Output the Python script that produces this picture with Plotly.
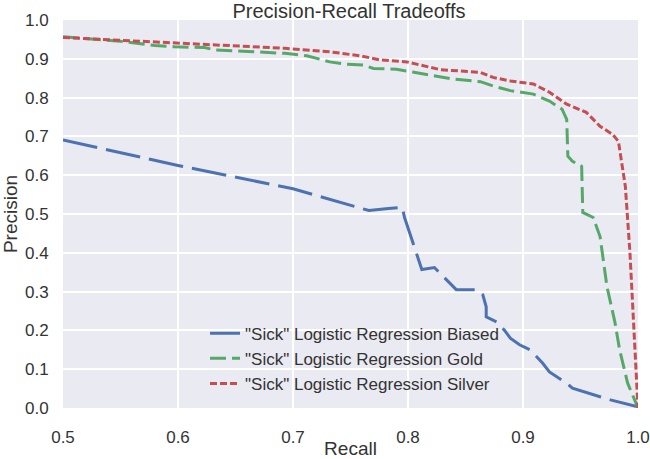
import plotly.graph_objects as go

# Data
biased_recall = [0.50, 0.60, 0.70, 0.766, 0.783, 0.795, 0.797, 0.812, 0.823, 0.842, 0.860, 0.865,
                 0.868, 0.868, 0.877, 0.884, 0.889, 0.897, 0.906, 0.913, 0.917, 0.923, 0.938, 0.943,
                 0.952, 0.967, 0.976, 0.987, 1.0]
biased_precision = [0.691, 0.625, 0.565, 0.509, 0.514, 0.517, 0.491, 0.357, 0.362, 0.305, 0.305, 0.292,
                    0.261, 0.235, 0.222, 0.200, 0.180, 0.163, 0.150, 0.129, 0.116, 0.093, 0.064, 0.051,
                    0.042, 0.029, 0.021, 0.012, 0.003]

gold_recall = [0.50, 0.55, 0.580, 0.597, 0.623, 0.632, 0.661, 0.678, 0.693, 0.712, 0.732, 0.747,
               0.761, 0.770, 0.790, 0.804, 0.819, 0.839, 0.863, 0.874, 0.889, 0.909, 0.923, 0.934,
               0.938, 0.939, 0.943, 0.951, 0.952, 0.961, 0.967, 0.973, 0.980, 0.984, 0.991, 1.0]
gold_precision = [0.957, 0.945, 0.934, 0.931, 0.929, 0.923, 0.919, 0.917, 0.914, 0.908, 0.892, 0.886,
                  0.884, 0.875, 0.873, 0.866, 0.858, 0.848, 0.841, 0.830, 0.818, 0.809, 0.791, 0.770,
                  0.744, 0.649, 0.636, 0.623, 0.504, 0.491, 0.442, 0.313, 0.220, 0.150, 0.064, 0.0]

silver_recall = [0.50, 0.55, 0.597, 0.65, 0.693, 0.732, 0.758, 0.776, 0.799, 0.828, 0.863, 0.874,
                 0.889, 0.909, 0.923, 0.938, 0.955, 0.967, 0.978, 0.983, 0.989, 0.993, 0.996, 1.0]
silver_precision = [0.955, 0.948, 0.940, 0.933, 0.927, 0.918, 0.908, 0.897, 0.892, 0.872, 0.865, 0.852,
                    0.843, 0.835, 0.814, 0.783, 0.762, 0.726, 0.705, 0.687, 0.571, 0.400, 0.227, 0.0]

x_ticks = [0.5, 0.6, 0.7, 0.8, 0.9, 1.0]
y_ticks = [0.0, 0.1, 0.2, 0.3, 0.4, 0.5, 0.6, 0.7, 0.8, 0.9, 1.0]

names = ['"Sick" Logistic Regression Biased',
         '"Sick" Logistic Regression Gold',
         '"Sick" Logistic Regression Silver']

FONT = "Liberation Sans, Arial, sans-serif"
TXT = "#333333"

fig = go.Figure()
fig.add_trace(go.Scatter(x=biased_recall, y=biased_precision, mode="lines", name=names[0],
                         line=dict(color="#4C72B0", width=3, dash="35px,9px")))
fig.add_trace(go.Scatter(x=gold_recall, y=gold_precision, mode="lines", name=names[1],
                         line=dict(color="#55A868", width=3, dash="16px,6px")))
fig.add_trace(go.Scatter(x=silver_recall, y=silver_precision, mode="lines", name=names[2],
                         line=dict(color="#C44E52", width=3, dash="7px,3px")))

fig.update_layout(
    width=650, height=459,
    margin=dict(l=63, r=12, t=20, b=51, autoexpand=False),
    paper_bgcolor="white",
    plot_bgcolor="#EAEAF2",
    font=dict(family=FONT, color=TXT, size=17),
    title=dict(text="Precision-Recall Tradeoffs", x=0.537, xanchor="center",
               yref="container", y=0.977, yanchor="middle",
               font=dict(size=20, color=TXT, family=FONT)),
    legend=dict(x=0.247, y=0.238, xanchor="left", yanchor="top",
                bgcolor="rgba(0,0,0,0)", font=dict(size=17, color=TXT, family=FONT),
                tracegroupgap=0),
    showlegend=True,
)
fig.update_xaxes(range=[0.5, 1.0], tickvals=x_ticks, ticktext=[f"{v:.1f}" for v in x_ticks],
                 automargin=False,
                 showgrid=True, gridcolor="white", gridwidth=1.6, zeroline=False,
                 showline=False, ticks="outside", ticklen=14, tickcolor="rgba(0,0,0,0)",
                 tickfont=dict(size=17, color=TXT),
                 title=dict(text="Recall", font=dict(size=19, color=TXT), standoff=8))
fig.update_yaxes(range=[0.0, 1.0], tickvals=y_ticks, ticktext=[f"{v:.1f}" for v in y_ticks],
                 automargin=False,
                 showgrid=True, gridcolor="white", gridwidth=1.6, zeroline=False,
                 showline=False, ticks="outside", ticklen=10, tickcolor="rgba(0,0,0,0)",
                 tickfont=dict(size=17, color=TXT),
                 title=dict(text="Precision", font=dict(size=19, color=TXT), standoff=4))

fig.write_html("out.html", config={"displayModeBar": False},
               post_script="document.body.style.margin='0';document.body.style.padding='0';")
